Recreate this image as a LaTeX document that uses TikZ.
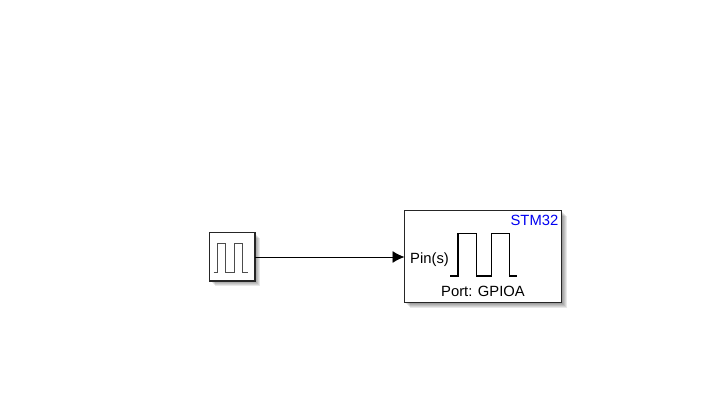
\documentclass[tikz,border=0pt]{standalone}
\usepackage{fontspec}
\setmainfont{Liberation Sans}
\usetikzlibrary{arrows.meta}
\tikzset{
  blockbox/.style={draw=black!85,line width=1.2pt,fill=white,minimum width=#1,inner sep=0pt,outer sep=0pt},
  shadowa/.style={fill=black,fill opacity=0.09,draw=none},
  labeltext/.style={font=\fontsize{14.8}{16}\selectfont,inner sep=0pt,anchor=base},
  wave/.style={line join=miter,line cap=butt},
  wire/.style={draw=black,line width=0.9pt,-{Latex[length=12pt,width=12pt]}}
}
\begin{document}
\begin{tikzpicture}[x=1pt,y=-1pt]
\useasboundingbox (0,0) rectangle (710,419);
% shadows
\foreach \d/\e in {1/1,2/2,3/3,4/4,5/5}{
  \fill[shadowa] (209.5+\e,232.7+\e) rectangle (255+\d,281+\d);
  \fill[shadowa] (404.5+\e,210.7+\e) rectangle (561.7+\d,302.7+\d);
}
% blocks
\node[blockbox=45.5pt,minimum height=48.3pt] (src) at (232.25,256.85) {};
\node[blockbox=157.2pt,minimum height=92pt] (gpio) at (483.1,256.7) {};
% waves
\draw[wave,line width=1.5pt,draw=black!70] (213.5,272.7) -- (217.7,272.7) -- (217.7,243.3) -- (225.7,243.3) -- (225.7,272.7) -- (234.3,272.7) -- (234.3,243.3) -- (242.7,243.3) -- (242.7,272.7) -- (248.3,272.7);
\draw[wave,line width=1.5pt,draw=black] (450,276) -- (458,276) -- (458,233.7) -- (476.3,233.7) -- (476.3,276) -- (491.3,276) -- (491.3,233.7) -- (509.3,233.7) -- (509.3,276) -- (517.3,276);
% labels
\node[labeltext,anchor=base east,text=blue!95!black] (title) at (558.5,226) {STM32};
\node[labeltext,anchor=base west] (pin) at (410,263.5) {Pin(s)};
\node[labeltext] (port) at (483,297) {Port: GPIOA};
% connector
\draw[wire] (src.east |- 0,257) -- (gpio.west |- 0,257);
\end{tikzpicture}
\end{document}
